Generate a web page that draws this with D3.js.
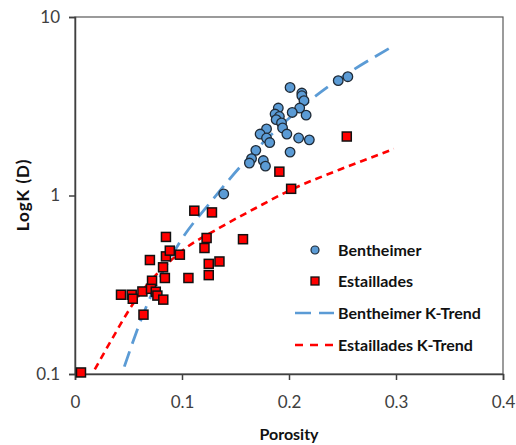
<!DOCTYPE html>
<html>
<head>
<meta charset="utf-8">
<script src="https://cdn.jsdelivr.net/npm/d3@7"></script>
<style>
  html, body { margin: 0; padding: 0; background: #fff; }
  svg { display: block; font-family: Lato, "Open Sans", sans-serif; }
</style>
</head>
<body>
<svg id="chart" width="516" height="445"></svg>
<script>
// Bentheimer samples: porosity, permeability (D)
const benPorosity = [0.201,0.246,0.255,0.212,0.212,0.214,0.210,0.203,0.216,0.190,0.187,0.191,0.188,0.193,0.194,0.198,0.209,0.219,0.201,0.179,0.173,0.179,0.182,0.169,0.165,0.163,0.176,0.178,0.139];
const benK        = [4.03,4.40,4.63,3.75,3.62,3.40,3.09,2.92,2.82,3.09,2.86,2.77,2.66,2.55,2.39,2.21,2.10,2.05,1.75,2.36,2.21,2.10,1.98,1.79,1.61,1.52,1.57,1.46,1.02];

// Estaillades samples
const estPorosity = [0.0056,0.043,0.053,0.054,0.063,0.064,0.070,0.072,0.071,0.0755,0.077,0.0825,0.0823,0.084,0.085,0.085,0.0886,0.098,0.106,0.1115,0.128,0.121,0.123,0.125,0.125,0.135,0.157,0.191,0.202,0.254];
const estK        = [0.102,0.278,0.278,0.264,0.290,0.215,0.435,0.333,0.300,0.289,0.275,0.261,0.396,0.345,0.586,0.456,0.491,0.466,0.345,0.822,0.804,0.508,0.578,0.414,0.358,0.427,0.569,1.36,1.09,2.14];

// Trend curves
const benTrendPorosity = [0.0461,0.0648,0.0975,0.1286,0.1536,0.2174,0.2953];
const benTrendK        = [0.110,0.224,0.542,0.947,1.43,3.32,6.76];
const estTrendPorosity = [0.0185,0.0351,0.0538,0.0975,0.1349,0.169,0.202,0.247,0.298];
const estTrendK        = [0.106,0.159,0.245,0.476,0.658,0.851,1.078,1.394,1.82];

const xTicks = [0, 0.1, 0.2, 0.3, 0.4];
const yTicks = [0.1, 1, 10];
const legendLabels = ["Bentheimer", "Estaillades", "Bentheimer K-Trend", "Estaillades K-Trend"];

const W = 516, H = 445;
const margin = {left: 75, top: 17, right: 13, bottom: 71};
const svg = d3.select("#chart");

const x = d3.scaleLinear().domain([0, 0.4]).range([margin.left, W - margin.right]);
const y = d3.scaleLog().domain([0.1, 10]).range([H - margin.bottom, margin.top]);

const blue = "#5B9BD5", red = "#FF0000";

// plot frame (top & right)
svg.append("rect")
  .attr("x", x(0)).attr("y", y(10))
  .attr("width", x(0.4) - x(0)).attr("height", y(0.1) - y(10))
  .attr("fill", "none").attr("stroke", "#595959").attr("stroke-width", 1.2);

// axes
const xAxis = d3.axisBottom(x).tickValues(xTicks).tickFormat(d => d === 0 ? "0" : d3.format(".1f")(d)).tickSizeOuter(0).tickSize(6).tickPadding(16);
const yAxis = d3.axisLeft(y).tickValues(yTicks).tickFormat(d => String(d)).tickSizeOuter(0).tickSize(6).tickPadding(9);

const gx = svg.append("g").attr("transform", `translate(0,${y(0.1)})`).call(xAxis);
const gy = svg.append("g").attr("transform", `translate(${x(0)},0)`).call(yAxis);
[gx, gy].forEach(g => {
  g.select(".domain").attr("stroke", "#404040").attr("stroke-width", 1.5);
  g.selectAll(".tick line").attr("stroke", "#404040").attr("stroke-width", 1.5);
  g.selectAll(".tick text").attr("fill", "#404040").style("font-size", "17px").style("font-family", "Lato, sans-serif");
});

// trend lines
const line = d3.line().x(d => x(d[0])).y(d => y(d[1])).curve(d3.curveMonotoneX);
svg.append("path")
  .datum(benTrendPorosity.map((p, i) => [p, benTrendK[i]]))
  .attr("d", line).attr("fill", "none").attr("stroke", blue)
  .attr("stroke-width", 2.8).attr("stroke-dasharray", "16,8");
svg.append("path")
  .datum(estTrendPorosity.map((p, i) => [p, estTrendK[i]]))
  .attr("d", line).attr("fill", "none").attr("stroke", red)
  .attr("stroke-width", 2.6).attr("stroke-dasharray", "7,5");

// Bentheimer circles
svg.append("g").selectAll("circle")
  .data(benPorosity.map((p, i) => [p, benK[i]]))
  .join("circle")
  .attr("cx", d => x(d[0])).attr("cy", d => y(d[1])).attr("r", 4.8)
  .attr("fill", blue).attr("stroke", "#1f2a36").attr("stroke-width", 1.3);

// Estaillades squares
const sq = 9;
svg.append("g").selectAll("rect")
  .data(estPorosity.map((p, i) => [p, estK[i]]))
  .join("rect")
  .attr("x", d => x(d[0]) - sq / 2).attr("y", d => y(d[1]) - sq / 2)
  .attr("width", sq).attr("height", sq)
  .attr("fill", red).attr("stroke", "#111").attr("stroke-width", 1.5);

// axis titles
svg.append("text").attr("x", x(0.2)).attr("y", 440).attr("text-anchor", "middle")
  .style("font-size", "16px").style("font-weight", "bold").attr("fill", "#111").text("Porosity");
svg.append("text").attr("transform", `translate(29,195) rotate(-90)`).attr("text-anchor", "middle")
  .style("font-size", "17px").style("font-weight", "bold").style("letter-spacing", "1px").attr("fill", "#111").text("LogK (D)");

// legend
const lg = svg.append("g");
const lx = 338, ly = [250, 281, 313, 345];
lg.append("circle").attr("cx", 315).attr("cy", ly[0]).attr("r", 4).attr("fill", blue).attr("stroke", "#1f2a36").attr("stroke-width", 1.2);
lg.append("rect").attr("x", 311).attr("y", ly[1] - 4).attr("width", 8).attr("height", 8).attr("fill", red).attr("stroke", "#111").attr("stroke-width", 1.3);
lg.append("line").attr("x1", 295).attr("x2", 334).attr("y1", ly[2]).attr("y2", ly[2]).attr("stroke", blue).attr("stroke-width", 2.6).attr("stroke-dasharray", "16,8");
lg.append("line").attr("x1", 295).attr("x2", 334).attr("y1", ly[3]).attr("y2", ly[3]).attr("stroke", red).attr("stroke-width", 2.6).attr("stroke-dasharray", "8,7");
legendLabels.forEach((t, i) => {
  lg.append("text").attr("x", lx).attr("y", ly[i]).attr("dy", "0.36em")
    .style("font-size", "16px").style("font-weight", "bold").attr("fill", "#111").text(t);
});
</script>
</body>
</html>
